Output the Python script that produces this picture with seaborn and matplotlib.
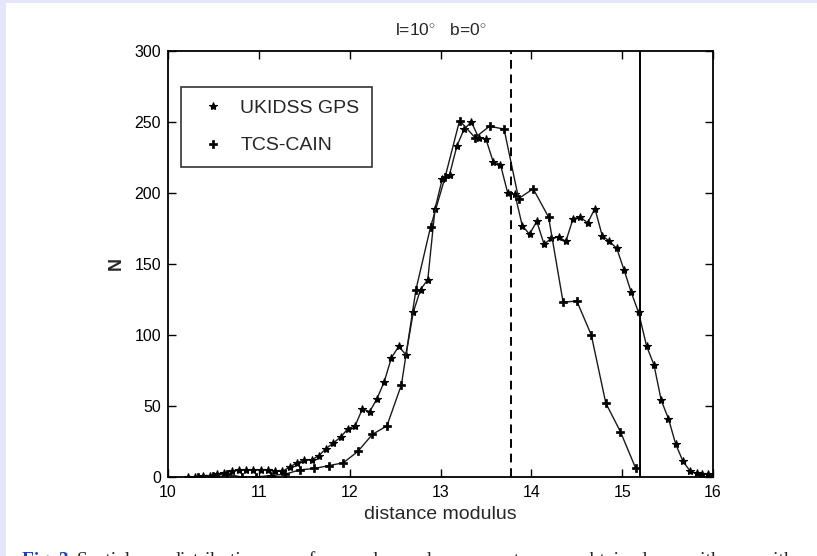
import matplotlib
matplotlib.use("Agg")
import matplotlib.pyplot as plt
import seaborn as sns
import pandas as pd
from matplotlib.patches import Rectangle

# ---------------- data ----------------
ukidss_x = [10.22, 10.30, 10.38, 10.46, 10.54, 10.62, 10.70, 10.78, 10.86, 10.94,
            11.02, 11.10, 11.18, 11.26, 11.34, 11.42, 11.50, 11.58, 11.66, 11.74,
            11.82, 11.90, 11.98, 12.06, 12.14, 12.22, 12.30, 12.38, 12.46, 12.54,
            12.62, 12.70, 12.78, 12.86, 12.94, 13.02, 13.10, 13.18, 13.26, 13.34,
            13.42, 13.50, 13.58, 13.66, 13.74, 13.82, 13.90, 13.98, 14.06, 14.14,
            14.22, 14.30, 14.38, 14.46, 14.54, 14.62, 14.70, 14.78, 14.86, 14.94,
            15.02, 15.10, 15.18, 15.27, 15.35, 15.43, 15.51, 15.59, 15.67, 15.75,
            15.82, 15.88, 15.94, 16.00]
ukidss_y = [0, 0, 1, 1, 2, 3, 4, 5, 5, 5,
            5, 5, 4, 4, 7, 10, 12, 12, 15, 20,
            24, 28, 34, 36, 48, 46, 55, 67, 84, 92,
            86, 116, 132, 139, 189, 210, 213, 233, 245, 250,
            239, 238, 222, 220, 200, 199, 177, 171, 180, 164,
            168, 169, 166, 182, 183, 179, 189, 170, 166, 161,
            146, 130, 116, 92, 79, 54, 41, 23, 11, 4,
            2.5, 2, 2, 1]

tcs_x = [10.33, 10.49, 10.65, 10.81, 10.97, 11.13, 11.29, 11.45, 11.61, 11.77,
         11.93, 12.09, 12.25, 12.41, 12.57, 12.73, 12.89, 13.05, 13.21, 13.38,
         13.54, 13.70, 13.86, 14.02, 14.19, 14.35, 14.50, 14.66, 14.82, 14.98,
         15.15]
tcs_y = [0, 1, 2, 0, 0, 1, 2, 5, 6, 8,
         10, 18, 30, 36, 65, 132, 176, 211, 251, 239,
         247, 245, 196, 203, 183, 123, 124, 100, 52, 32,
         6]

dashed_limit = 13.78
solid_limit = 15.2

title_text = r"l=10$^{\circ}$   b=0$^{\circ}$"
xlabel_text = "distance modulus"
ylabel_text = "N"
x_ticks = [10, 11, 12, 13, 14, 15, 16]
y_ticks = [0, 50, 100, 150, 200, 250, 300]
caption_fig = "Fig. 3."
caption_words = ["Spatial", "distribution", "of", "red", "clump", "stars",
                 "obtained", "with", "with"]

# ---------------- figure ----------------
sns.set_style("ticks")
plt.rcParams["font.family"] = ["Liberation Sans", "DejaVu Sans"]
plt.rcParams["mathtext.fontset"] = "custom"
plt.rcParams["mathtext.rm"] = "Liberation Sans"

W, H = 817, 556
fig = plt.figure(figsize=(W / 100, H / 100), dpi=100)
fig.patch.set_facecolor("#e6e6fa")
fig.add_artist(Rectangle((6 / W, 0), 1 - 6 / W, 1 - 3 / H, transform=fig.transFigure,
                         facecolor="white", edgecolor="none", zorder=0))

ax = fig.add_axes([168 / W, (H - 477) / H, (713 - 168) / W, (477 - 51) / H])
ax.set_facecolor("white")

df_u = pd.DataFrame({"x": ukidss_x, "y": ukidss_y})
df_t = pd.DataFrame({"x": tcs_x, "y": tcs_y})

sns.lineplot(data=df_u, x="x", y="y", ax=ax, color="#1a1a1a", linewidth=1.0,
             marker="*", markersize=6, markeredgewidth=0.8, markeredgecolor="black",
             markerfacecolor="black", sort=False, label="UKIDSS GPS")
sns.lineplot(data=df_t, x="x", y="y", ax=ax, color="#1a1a1a", linewidth=1.0,
             marker="P", markersize=5.5, markeredgewidth=0.5, markeredgecolor="black",
             markerfacecolor="black", sort=False, label="TCS-CAIN")

ax.axvline(dashed_limit, color="black", linestyle=(0, (4.5, 3)), linewidth=1.4)
ax.axvline(solid_limit, color="black", linestyle="-", linewidth=1.4)

ax.set_xlim(10, 16)
ax.set_ylim(0, 300)
ax.set_xticks(x_ticks)
ax.set_yticks(y_ticks)
ax.set_xticklabels([str(t) for t in x_ticks])
ax.set_yticklabels([str(t) for t in y_ticks])
ax.tick_params(direction="in", length=6, width=1, top=True, right=True,
               labelsize=11.5, colors="black")
ax.tick_params(axis="x", pad=6)
ax.tick_params(axis="y", pad=5)
for s in ax.spines.values():
    s.set_visible(True)
    s.set_linewidth(1.3)
    s.set_color("black")

ax.set_xlabel(xlabel_text, fontsize=14, labelpad=4)
ax.set_ylabel(ylabel_text, fontsize=13, labelpad=7, fontweight="bold")
ax.set_title(title_text, fontsize=12.5, pad=11)

leg = ax.legend(loc="upper left", bbox_to_anchor=((181 - 168) / (713 - 168), 1 - (87 - 51) / (477 - 51)),
                frameon=True, fancybox=False, edgecolor="black", fontsize=14,
                handlelength=2.0, handletextpad=0.4, borderpad=0.65, labelspacing=1.0,
                borderaxespad=0)
leg.get_frame().set_linewidth(1.2)
for h in leg.get_lines():
    h.set_linestyle("none")

serif = ["Liberation Serif", "DejaVu Serif"]
cap_y = 1 - 552 / H
fig.text(22 / W, cap_y, caption_fig, color="#1a3fc0", fontsize=14,
         family=serif, fontweight="bold", va="top", ha="left")
x0, x1 = 77, 795
# justified caption line: place words spread across the line width
renderer = fig.canvas.get_renderer()
tmp = [fig.text(0, 0, w, fontsize=14, family=serif) for w in caption_words]
widths = [t.get_window_extent(renderer).width for t in tmp]
for t in tmp:
    t.remove()
gap = (x1 - x0 - sum(widths)) / (len(caption_words) - 1)
xp = x0
for w, wd in zip(caption_words, widths):
    fig.text(xp / W, cap_y, w, fontsize=14, family=serif, va="top", ha="left")
    xp += wd + gap

fig.savefig("out.png", dpi=100, facecolor=fig.get_facecolor())
